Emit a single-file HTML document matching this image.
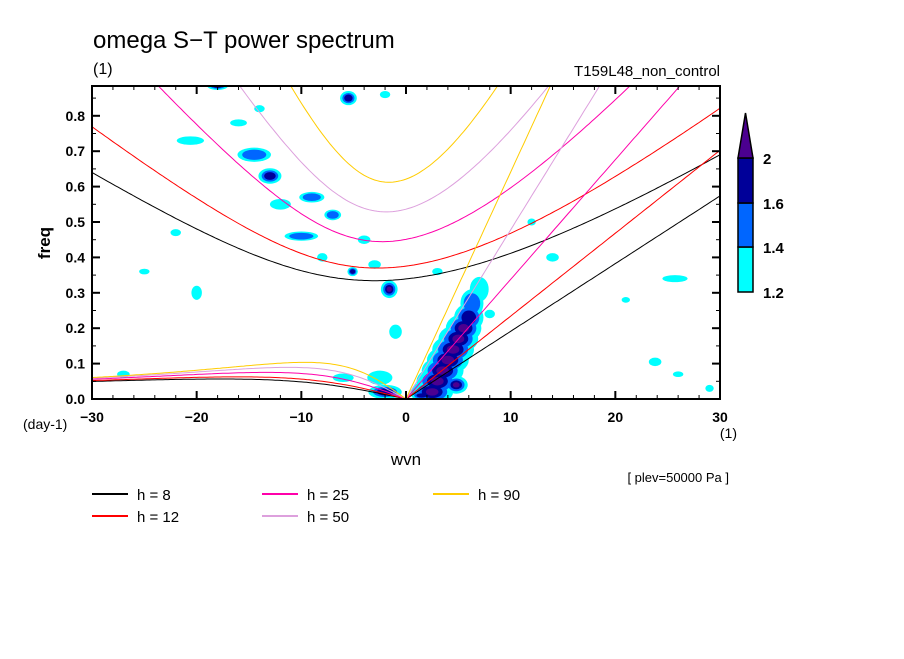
<!DOCTYPE html>
<html><head><meta charset="utf-8"><style>
body{margin:0;background:#fff;}
svg text{font-family:"Liberation Sans",sans-serif;}
</style></head><body>
<svg id="chart" width="904" height="654" viewBox="0 0 904 654" xmlns="http://www.w3.org/2000/svg">
<text x="93" y="48" font-size="24">omega S−T power spectrum</text>
<text x="93" y="74" font-size="16">(1)</text>
<text x="720" y="76" font-size="15" text-anchor="end">T159L48_non_control</text>
<defs><clipPath id="plotclip"><rect x="92" y="86" width="628" height="313"/></clipPath></defs>
<g id="blobs" clip-path="url(#plotclip)"></g>
<g id="curves" clip-path="url(#plotclip)"></g>
<g id="axes"></g>
<rect x="92" y="86" width="628" height="313" fill="none" stroke="#000" stroke-width="2"/>
<text x="50" y="243" font-size="17" font-weight="bold" text-anchor="middle" transform="rotate(-90 50 243)">freq</text>
<text x="23" y="429" font-size="14">(day-1)</text>
<text x="737" y="438" font-size="14" text-anchor="end">(1)</text>
<text x="406" y="465" font-size="17" text-anchor="middle">wvn</text>
<text x="729" y="482" font-size="13" text-anchor="end">[ plev=50000 Pa ]</text>
<g id="legend"></g>
<g id="cbar"></g>
</svg>
<script>
const NS="http://www.w3.org/2000/svg";
// data
const depths=[8,12,25,50,90];
const depthColors=["#000000","#ff0000","#ff00aa","#dda0dd","#ffcc00"];
const xTicks=[-30,-20,-10,0,10,20,30];
const yTicks=[0,0.1,0.2,0.3,0.4,0.5,0.6,0.7,0.8];
const cbarLevels=[1.2,1.4,1.6,2];
const cbarColors=["#00ffff","#0066ff","#000099","#4b0090"];
const blobWvn =[2.5,3,3.5,4,4.5,5,5.5,6,6.3,7,4.8,1.5,-2,-2.5,-1.6,-5.1,-10,-13,-14.5,-20.6,-18,-5.5,-2,-12,-9,-16,-25,-27,-6,-4,14,25.7,21,23.8,26,29,-7,-8,-3,3,8,12,-22,-14,-1,-20];
const blobFreq=[0.02,0.05,0.08,0.11,0.14,0.17,0.20,0.23,0.27,0.31,0.04,0.01,0.02,0.06,0.31,0.36,0.46,0.63,0.69,0.73,0.885,0.85,0.86,0.55,0.57,0.78,0.36,0.07,0.06,0.45,0.40,0.34,0.28,0.105,0.07,0.03,0.52,0.40,0.38,0.36,0.24,0.5,0.47,0.82,0.19,0.30];
const blobLevel=[4,4,4,4,4,4,4,3,2,1,4,3,3,1,4,3,2,3,2,1,3,3,1,1,2,1,1,1,1,1,1,1,1,1,1,1,2,1,1,1,1,1,1,1,1,1];
const blobRx=[2,2,2,2,2,1.9,1.7,1.4,1.1,0.9,1.1,1,1.6,1.2,0.8,0.5,1.6,1.1,1.6,1.3,1,0.8,0.5,1,1.2,0.8,0.5,0.6,1,0.6,0.6,1.2,0.4,0.6,0.5,0.4,0.8,0.5,0.6,0.5,0.5,0.4,0.5,0.5,0.6,0.5];
const blobRy=[0.035,0.04,0.04,0.04,0.04,0.04,0.04,0.04,0.04,0.035,0.025,0.012,0.02,0.02,0.025,0.013,0.013,0.022,0.02,0.012,0.012,0.02,0.01,0.015,0.015,0.01,0.008,0.01,0.012,0.012,0.012,0.01,0.008,0.012,0.008,0.01,0.015,0.012,0.012,0.01,0.012,0.01,0.01,0.01,0.02,0.02];

const X=w=>92+(w+30)*628/60;
const Y=f=>399-f*354;
function mk(tag,attrs,parent){const e=document.createElementNS(NS,tag);for(const k in attrs)e.setAttribute(k,attrs[k]);parent.appendChild(e);return e;}

// blobs (drawn layer by layer so overlapping blobs merge)
const bg=document.getElementById('blobs');
const scales=[1,0.72,0.5,0.3];
for(let l=0;l<4;l++){
  for(let i=0;i<blobWvn.length;i++){
    if(blobLevel[i]<=l)continue;
    const e=mk('ellipse',{cx:X(blobWvn[i]),cy:Y(blobFreq[i]),rx:blobRx[i]*628/60*scales[l],ry:blobRy[i]*354*scales[l],fill:cbarColors[l]},bg);
    
    
  }
}

// dispersion curves
const g=9.81,a=6.371e6,beta=2*7.292e-5/a,cpd=86400/(2*Math.PI);
const cg=document.getElementById('curves');
depths.forEach((h,i)=>{
  const c=Math.sqrt(g*h);
  let p1=[],p2=[],p3=[];
  for(let s=-30;s<=30.001;s+=0.25){
    const k=s/a;
    let w=Math.sqrt(c*c*k*k+3*beta*c);
    for(let it=0;it<60;it++){w=Math.sqrt(Math.max(1e-20,c*c*k*k+3*beta*c+beta*k*c*c/w));}
    p1.push(X(s).toFixed(1)+','+Y(w*cpd).toFixed(1));
    if(s<=0){const wr=-beta*k/(k*k+3*beta/c);p2.push(X(s).toFixed(1)+','+Y(wr*cpd).toFixed(1));}
    if(s>=0){p3.push(X(s).toFixed(1)+','+Y(c*k*cpd).toFixed(1));}
  }
  [[p1,'ig-curve-h'],[p2,'rossby-curve-h'],[p3,'kelvin-curve-h']].forEach(([p,n])=>{
    const e=mk('polyline',{points:p.join(' '),fill:'none',stroke:depthColors[i],'stroke-width':1},cg);
    
    
  });
});

// axes
const ag=document.getElementById('axes');
for(let w=-30;w<=30;w+=2){
  const maj=(w%10===0),L=maj?8:4;
  mk('line',{x1:X(w),x2:X(w),y1:399,y2:399-L,stroke:'#000','stroke-width':maj?2:1},ag);
  mk('line',{x1:X(w),x2:X(w),y1:86,y2:86+L,stroke:'#000','stroke-width':maj?2:1},ag);
}
for(let j=0;j<=17;j++){
  const f=j*0.05,maj=(j%2===0),L=maj?8:4;
  mk('line',{x1:92,x2:92+L,y1:Y(f),y2:Y(f),stroke:'#000','stroke-width':maj?2:1},ag);
  mk('line',{x1:720,x2:720-L,y1:Y(f),y2:Y(f),stroke:'#000','stroke-width':maj?2:1},ag);
}
xTicks.forEach(t=>{
  const e=mk('text',{x:X(t),y:422,'font-size':14,'font-weight':'bold','text-anchor':'middle'},ag);
  e.textContent=(t<0?'−'+(-t):t);
  
  
});
yTicks.forEach(t=>{
  const e=mk('text',{x:85,y:Y(t)+5,'font-size':14,'font-weight':'bold','text-anchor':'end'},ag);
  e.textContent=t.toFixed(1);
  
  
});

// legend
const lg=document.getElementById('legend');
const legX=[92,92,262,262,433],legY=[494,516,494,516,494];
depths.forEach((h,i)=>{
  const l=mk('line',{x1:legX[i],x2:legX[i]+36,y1:legY[i],y2:legY[i],stroke:depthColors[i],'stroke-width':2},lg);
  
  
  const t=mk('text',{x:legX[i]+45,y:legY[i]+6,'font-size':15,'xml:space':'preserve'},lg);
  t.textContent='h = '+(h<10?' ':'')+h;
  
  
});

// colorbar
const cb=document.getElementById('cbar');
const cbY=[292,247,203,158];
for(let i=0;i<3;i++){
  const r=mk('rect',{x:738,y:cbY[i+1],width:15,height:cbY[i]-cbY[i+1],fill:cbarColors[i],stroke:'#000','stroke-width':1.5},cb);
  
  
}
const tri=mk('polygon',{points:'738,158 753,158 745.5,113',fill:cbarColors[3],stroke:'#000','stroke-width':1.5},cb);


cbarLevels.forEach((v,i)=>{
  const t=mk('text',{x:763,y:cbY[i]+6,'font-size':15,'font-weight':'bold'},cb);
  t.textContent=String(v);
  
  
});
</script>
</body></html>
